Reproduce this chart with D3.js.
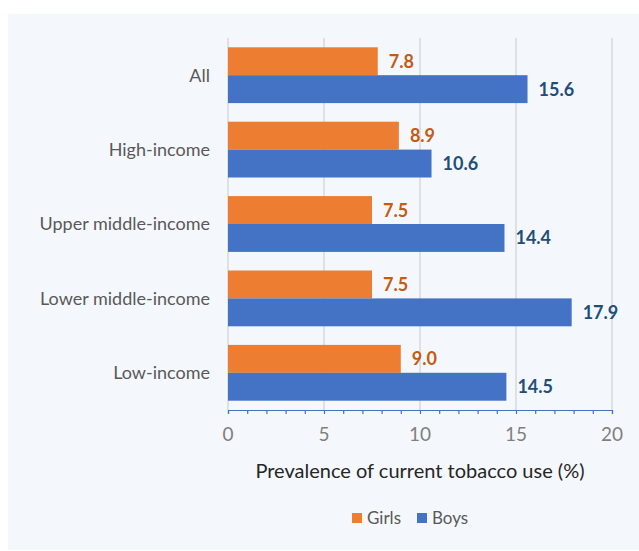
<!DOCTYPE html>
<html><head><meta charset="utf-8">
<script src="https://cdn.jsdelivr.net/npm/d3@7"></script>
<style>
html,body{margin:0;padding:0;background:#fff;}
svg{display:block;}
text{font-family:Lato,"Open Sans",sans-serif;}
</style></head>
<body>
<svg id="chart" width="639" height="551"></svg>
<script>
const categories = ["All","High-income","Upper middle-income","Lower middle-income","Low-income"];
const girls = [7.8, 8.9, 7.5, 7.5, 9.0];
const boys = [15.6, 10.6, 14.4, 17.9, 14.5];
const seriesNames = ["Girls","Boys"];
const seriesColors = ["#ED7D31","#4472C4"];
const labelColors = ["#C55A11","#1F4E79"];
const xTicks = [0,5,10,15,20];
const xTitle = "Prevalence of current tobacco use (%)";

(function(){
const svg = d3.select("#chart");
svg.append("rect").attr("x",8).attr("y",14).attr("width",631).attr("height",536).attr("fill","#F4F8FC");

const pLeft = 228, pRight = 612, pTop = 38, pBottom = 410;
const x = d3.scaleLinear().domain([0,20]).range([pLeft,pRight]);
const y = d3.scaleBand().domain(categories).range([pTop,pBottom]).paddingInner(0.25).paddingOuter(0.125);
const sub = d3.scaleBand().domain(seriesNames).range([0,y.bandwidth()]);

// gridlines
svg.append("g").selectAll("line").data(xTicks).join("line")
  .attr("x1",d=>x(d)).attr("x2",d=>x(d)).attr("y1",pTop).attr("y2",pBottom)
  .attr("stroke","#D9D9D9").attr("stroke-width",1.5);

const data = categories.map((c,i)=>({cat:c, vals:[girls[i],boys[i]]}));
const groups = svg.append("g").selectAll("g").data(data).join("g")
  .attr("transform",d=>`translate(0,${y(d.cat)})`);
groups.selectAll("rect").data(d=>d.vals.map((v,j)=>({v,j}))).join("rect")
  .attr("x",x(0)).attr("y",d=>sub(seriesNames[d.j]))
  .attr("width",d=>x(d.v)-x(0)).attr("height",sub.bandwidth())
  .attr("fill",d=>seriesColors[d.j]);
groups.selectAll("text").data(d=>d.vals.map((v,j)=>({v,j}))).join("text")
  .attr("x",d=>x(d.v)+11).attr("y",d=>sub(seriesNames[d.j])+sub.bandwidth()/2)
  .attr("dy","0.36em").attr("font-size",18).attr("font-weight","bold")
  .attr("fill",d=>labelColors[d.j]).text(d=>d.v.toFixed(1));

// category labels
svg.append("g").selectAll("text").data(categories).join("text")
  .attr("x",210).attr("y",d=>y(d)+y.bandwidth()/2).attr("dy","0.36em")
  .attr("text-anchor","end").attr("font-size",18).attr("fill","#595959").text(d=>d);

// x axis
const axis = d3.axisBottom(x).tickValues(d3.range(0,21,1)).tickSize(4).tickFormat("");
const gx = svg.append("g").attr("transform",`translate(0,${pBottom})`).call(axis);
gx.select(".domain").attr("stroke","#4472C4").attr("stroke-width",1.2);
gx.selectAll(".tick line").attr("stroke","#4472C4").attr("stroke-width",1.2);
svg.append("g").selectAll("text").data(xTicks).join("text")
  .attr("x",d=>x(d)).attr("y",441).attr("text-anchor","middle")
  .attr("font-size",19).attr("fill","#7F7F7F").text(d=>d);

svg.append("text").attr("x",(pLeft+pRight)/2).attr("y",478).attr("text-anchor","middle")
  .attr("font-size",20).attr("fill","#262626").text(xTitle);

// legend
const legendX = [352, 417];
const lg = svg.append("g").selectAll("g").data(seriesNames).join("g")
  .attr("transform",(d,i)=>`translate(${legendX[i]},513)`);
lg.append("rect").attr("width",10).attr("height",10).attr("fill",(d,i)=>seriesColors[i]);
lg.append("text").attr("x",15).attr("y",5).attr("dy","0.36em").attr("font-size",17)
  .attr("fill","#595959").text(d=>d);
})();
</script>
</body></html>
